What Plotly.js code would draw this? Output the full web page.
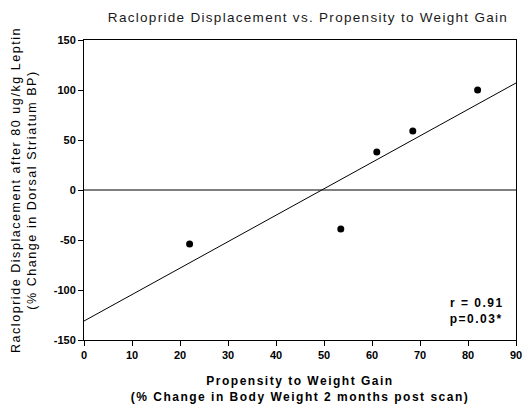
<!DOCTYPE html>
<html>
<head>
<meta charset="utf-8">
<script src="https://cdn.plot.ly/plotly-3.0.1.min.js"></script>
<style>html,body{margin:0;padding:0;background:#fff;}#chart{width:524px;height:412px;}</style>
</head>
<body>
<div id="chart"></div>
<script>
// Propensity to weight gain (% change in body weight) per subject
const weightGain = [22, 53.5, 61, 68.5, 82];
// Raclopride displacement (% change in dorsal striatum BP)
const displacement = [-54, -39, 38, 59, 100];
const xTicks = [0, 10, 20, 30, 40, 50, 60, 70, 80, 90];
const yTicks = [-150, -100, -50, 0, 50, 100, 150];
const statLines = ['r = 0.91', 'p=0.03*'];

// Least-squares fit drawn across the full x range
const n = weightGain.length;
const mx = weightGain.reduce((a, b) => a + b, 0) / n;
const my = displacement.reduce((a, b) => a + b, 0) / n;
let sxy = 0, sxx = 0;
for (let i = 0; i < n; i++) {
  sxy += (weightGain[i] - mx) * (displacement[i] - my);
  sxx += (weightGain[i] - mx) ** 2;
}
const slope = sxy / sxx;
const intercept = my - slope * mx;
const fitX = [0, 90];
const fitY = fitX.map(x => intercept + slope * x);

const font = "Liberation Sans, Arial, sans-serif";

const traces = [
  {
    x: [0, 90], y: [0, 0], mode: 'lines',
    line: {color: '#000', width: 1}, hoverinfo: 'skip', showlegend: false
  },
  {
    x: fitX, y: fitY, mode: 'lines',
    line: {color: '#000', width: 1}, showlegend: false
  },
  {
    x: weightGain, y: displacement, mode: 'markers',
    marker: {color: '#000', size: 7}, showlegend: false
  }
];

const layout = {
  width: 524, height: 412,
  margin: {l: 84, r: 8, t: 40, b: 72},
  paper_bgcolor: '#fff', plot_bgcolor: '#fff',
  font: {family: font, color: '#000'},
  title: {
    text: 'Raclopride Displacement vs. Propensity to Weight Gain',
    font: {family: font, size: 13.5, color: '#1a1a1a'},
    x: 308 / 524, xanchor: 'center', y: 1 - 17 / 412, yanchor: 'middle'
  },
  xaxis: {
    range: [0, 90], tickvals: xTicks, ticktext: xTicks.map(v => '<b>' + v + '</b>'),
    ticks: 'outside', ticklen: 5, tickwidth: 1, tickcolor: '#000',
    showline: true, linecolor: '#000', linewidth: 1, mirror: true,
    showgrid: false, zeroline: false,
    tickfont: {family: font, size: 11, color: '#000'},
    title: {
      text: '<b>Propensity to Weight Gain<br>(% Change in Body Weight 2 months post scan)</b>',
      font: {family: font, size: 12, color: '#000'}, standoff: 16
    }
  },
  yaxis: {
    range: [-150, 150], tickvals: yTicks, ticktext: yTicks.map(v => '<b>' + v + '</b>'),
    ticks: 'outside', ticklen: 5, tickwidth: 1, tickcolor: '#000',
    showline: true, linecolor: '#000', linewidth: 1, mirror: true,
    showgrid: false, zeroline: false,
    tickfont: {family: font, size: 11, color: '#000'},
    title: {
      text: 'Raclopride Displacement after 80 ug/kg Leptin<br>(% Change in Dorsal Striatum BP)',
      font: {family: font, size: 12.5, color: '#000'}, standoff: 14
    }
  },
  annotations: statLines.map((t, i) => ({
    xref: 'x', yref: 'y', x: 81.8, y: -113 - 16 * i, xanchor: 'center', yanchor: 'middle',
    text: '<b>' + t + '</b>', showarrow: false,
    font: {family: font, size: 12, color: '#000'}
  }))
};

Plotly.newPlot('chart', traces, layout, {displayModeBar: false, staticPlot: true}).then(() => {
  // Slightly looser letter spacing for titles and the statistics text
  const spacing = {'.gtitle': '1.3px', '.xtitle': '1.5px', '.ytitle': '1.55px', '.annotation-text': '1.5px'};
  Object.entries(spacing).forEach(([sel, ls]) => {
    document.querySelectorAll('#chart ' + sel).forEach(el => { el.style.letterSpacing = ls; });
  });
});
</script>
</body>
</html>
